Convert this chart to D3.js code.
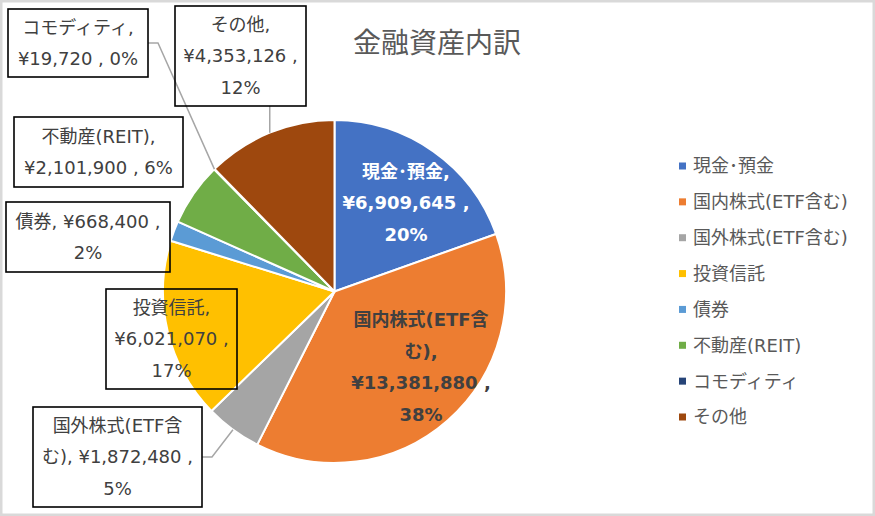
<!DOCTYPE html>
<html>
<head>
<meta charset="utf-8">
<script src="https://cdn.jsdelivr.net/npm/d3@7"></script>
<style>
  html, body { margin: 0; padding: 0; background: #fff; }
  svg { display: block; }
  text { font-family: "DejaVu Sans", "Noto Sans CJK JP", sans-serif; }
</style>
</head>
<body>
<svg id="chart" width="875" height="516"></svg>
<script>
// ---- data ----
const title = "金融資産内訳";
const categories = ["現金\uFF65預金", "国内株式(ETF含む)", "国外株式(ETF含む)", "投資信託", "債券", "不動産(REIT)", "コモディティ", "その他"];
const values = [6909645, 13381880, 1872480, 6021070, 668400, 2101900, 19720, 4353126];
const colors = ["#4472C4", "#ED7D31", "#A5A5A5", "#FFC000", "#5B9BD5", "#70AD47", "#264478", "#9E480E"];

// ---- label layout (annotation placement, not data) ----
const labelLayout = [
  { inside: true, cx: 406, cy: 203, maxW: 135, fill: "#ffffff" },
  { inside: true, cx: 421, cy: 367, maxW: 145, fill: "#404040" },
  { box: [33, 407, 169, 100], maxW: 152 },
  { box: [106, 289, 131, 100], maxW: 120 },
  { box: [6, 202, 164, 70], maxW: 155 },
  { box: [14, 117, 169, 70], maxW: 160 },
  { box: [8, 9, 140, 68], maxW: 130 },
  { box: [175, 6, 131, 100], maxW: 120 }
];

const W = 875, H = 516;
const cx = 334.5, cy = 291.5, R = 171.5;
const lineH = 31.5;
const svg = d3.select("#chart");

// background and border
svg.append("rect").attr("x", 1.25).attr("y", 1.25).attr("width", W - 2.5).attr("height", H - 2.5)
  .attr("fill", "#fff").attr("stroke", "#d9d9d9").attr("stroke-width", 2.5);

// title
svg.append("text").attr("x", 437).attr("y", 52.5).attr("text-anchor", "middle")
  .attr("font-size", 28).attr("fill", "#595959").text(title);

const total = d3.sum(values);
const fmt = d3.format(",");
const pie = d3.pie().sort(null).value(d => d).startAngle(0).endAngle(2 * Math.PI);
const arcs = pie(values);
const arc = d3.arc().innerRadius(0).outerRadius(R);
const edgeArc = d3.arc().innerRadius(R).outerRadius(R);

const g = svg.append("g").attr("transform", `translate(${cx},${cy})`);
g.selectAll("path.slice").data(arcs).join("path")
  .attr("class", "slice")
  .attr("d", arc)
  .attr("fill", (d, i) => colors[i])
  .attr("stroke", "#fff").attr("stroke-width", 2).attr("stroke-linejoin", "round");

// ---- text wrapping helper ----
const measurer = svg.append("text").attr("x", -1000).attr("y", -1000).attr("font-size", 18);
function measure(str, bold) {
  measurer.attr("font-weight", bold ? "bold" : "normal").text(str);
  return measurer.node().getComputedTextLength();
}
function tokenize(s) {
  const re = /[\u3000-\u30ff\u3400-\u9fff\uff00-\uffef][),]*|\(?[A-Za-z0-9¥,.%]+[),]*|\s+/g;
  return s.match(re) || [];
}
function wrap(str, maxW, bold) {
  const toks = tokenize(str);
  const lines = [];
  let cur = "";
  toks.forEach(t => {
    if (/^\s+$/.test(t)) { if (cur.length) cur += t; return; }
    const cand = cur + t;
    if (cur.trim().length && measure(cand.trim(), bold) > maxW) {
      lines.push(cur.trim());
      cur = t;
    } else {
      cur = cand;
    }
  });
  if (cur.trim().length) lines.push(cur.trim());
  return lines;
}

// ---- leaders and labels ----
const leaderG = svg.append("g");
const labelG = svg.append("g");

arcs.forEach((d, i) => {
  const L = labelLayout[i];
  const pct = Math.round(values[i] / total * 100);
  const str = `${categories[i]}, ¥${fmt(values[i])} , ${pct}%`;
  const bold = !!L.inside;
  const lines = wrap(str, L.maxW, bold);
  let tx, ty;
  if (L.inside) {
    tx = L.cx; ty = L.cy;
  } else {
    const [bx, by, bw, bh] = L.box;
    tx = bx + bw / 2; ty = by + bh / 2;
    labelG.append("rect").attr("x", bx).attr("y", by).attr("width", bw).attr("height", bh)
      .attr("fill", "none").attr("stroke", "#000").attr("stroke-width", 1.6);
    // leader to slice edge at mid-angle
    const c = edgeArc.centroid(d);
    const px = cx + c[0], py = cy + c[1];
    const dx = Math.max(bx - px, 0, px - (bx + bw));
    const dy = Math.max(by - py, 0, py - (by + bh));
    if (Math.hypot(dx, dy) > 18) {
      let pts;
      if (px >= bx && px <= bx + bw) {
        const sy = py > by + bh ? by + bh : by;
        pts = [[px, sy], [px, py]];
      } else if (px > bx + bw) {
        const my = by + bh / 2;
        pts = [[bx + bw, my], [bx + bw + 10, my], [px, py]];
      } else {
        const my = by + bh / 2;
        pts = [[bx, my], [bx - 10, my], [px, py]];
      }
      leaderG.append("path").attr("d", d3.line()(pts))
        .attr("fill", "none").attr("stroke", "#a6a6a6").attr("stroke-width", 1.5);
    }
  }
  const t = labelG.append("text").attr("text-anchor", "middle").attr("font-size", 18)
    .attr("font-weight", bold ? "bold" : "normal")
    .attr("fill", L.fill || "#404040");
  const y0 = ty - (lines.length - 1) * lineH / 2;
  lines.forEach((ln, k) => {
    t.append("tspan").attr("x", tx).attr("y", y0 + k * lineH).attr("dy", "0.35em")
      .attr("xml:space", "preserve").text(ln);
  });
});
measurer.remove();

// ---- legend ----
const legend = svg.append("g");
const legY = d3.scalePoint().domain(categories).range([166, 417]);
categories.forEach((c, i) => {
  const y = legY(c);
  legend.append("rect").attr("x", 679).attr("y", y - 3.5).attr("width", 7).attr("height", 7).attr("fill", colors[i]);
  legend.append("text").attr("x", 693).attr("y", y).attr("dy", "0.36em")
    .attr("font-size", 18).attr("fill", "#595959").text(c);
});
</script>
</body>
</html>
